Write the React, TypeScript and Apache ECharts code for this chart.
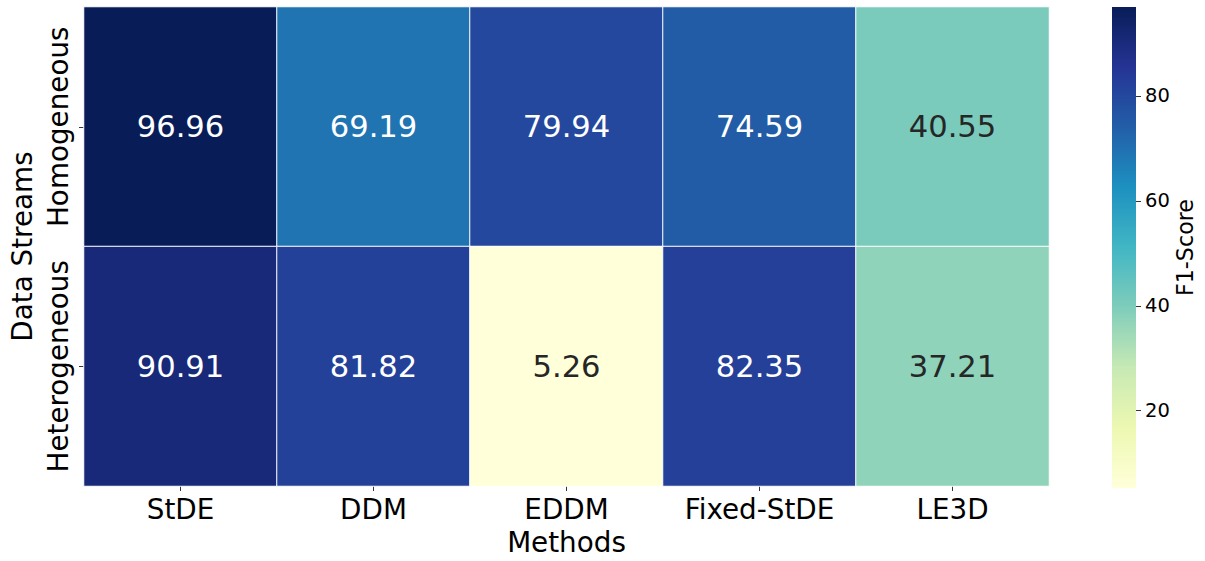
import React, { useEffect, useRef } from "react";
import * as echarts from "echarts";

// Categories
const methods = ["StDE", "DDM", "EDDM", "Fixed-StDE", "LE3D"];
const streams = ["Homogeneous", "Heterogeneous"];

// F1-scores per data stream type
const homogeneous = [96.96, 69.19, 79.94, 74.59, 40.55];
const heterogeneous = [90.91, 81.82, 5.26, 82.35, 37.21];

// Colorbar ticks
const colorbarTicks = [20, 40, 60, 80];

// YlGnBu colour ramp (light -> dark)
const ylgnbu = [
  "#ffffd9",
  "#edf8b1",
  "#c7e9b4",
  "#7fcdbb",
  "#41b6c4",
  "#1d91c0",
  "#225ea8",
  "#253494",
  "#081d58",
];

const FONT = "DejaVu Sans";

function hexToRgb(h: string): number[] {
  const n = parseInt(h.slice(1), 16);
  return [(n >> 16) & 255, (n >> 8) & 255, n & 255];
}

function rampColor(t: number): number[] {
  const pos = Math.min(Math.max(t, 0), 1) * (ylgnbu.length - 1);
  const i = Math.min(Math.floor(pos), ylgnbu.length - 2);
  const f = pos - i;
  const a = hexToRgb(ylgnbu[i]);
  const b = hexToRgb(ylgnbu[i + 1]);
  return a.map((v, k) => v + (b[k] - v) * f);
}

function luminance(rgb: number[]): number {
  const c = rgb.map((v) => {
    const s = v / 255;
    return s <= 0.03928 ? s / 12.92 : Math.pow((s + 0.055) / 1.055, 2.4);
  });
  return 0.2126 * c[0] + 0.7152 * c[1] + 0.0722 * c[2];
}

export default function App() {
  const ref = useRef<HTMLDivElement>(null);

  useEffect(() => {
    if (!ref.current) return;
    const chart = echarts.init(ref.current, null, { renderer: "svg" });

    const rows = [homogeneous, heterogeneous];
    const all = rows.flat();
    const vmin = Math.min(...all);
    const vmax = Math.max(...all);

    const data: any[] = [];
    rows.forEach((row, y) => {
      row.forEach((v, x) => {
        const lum = luminance(rampColor((v - vmin) / (vmax - vmin)));
        data.push({
          value: [x, y, v],
          label: { color: lum > 0.408 ? "#262626" : "#ffffff" },
        });
      });
    });

    const gridLeft = 82;
    const gridTop = 7;
    const gridRight = 156;
    const gridBottom = 73;
    const plotH = 561 - gridTop - gridBottom;

    const cbLeft = 1112;
    const cbWidth = 24;

    chart.setOption({
      animation: false,
      backgroundColor: "#ffffff",
      textStyle: { fontFamily: FONT },
      grid: [
        { left: gridLeft, top: gridTop, right: gridRight, bottom: gridBottom },
        { left: cbLeft, top: gridTop, width: cbWidth, height: plotH },
      ],
      xAxis: [
        {
          type: "category",
          data: methods,
          gridIndex: 0,
          name: "Methods",
          nameLocation: "middle",
          nameGap: 42,
          nameTextStyle: { fontSize: 27.8, color: "#000", fontFamily: FONT },
          axisLine: { show: false },
          axisTick: {
            show: true,
            alignWithLabel: true,
            length: 5,
            lineStyle: { color: "#000", width: 0.8 },
          },
          axisLabel: {
            interval: 0,
            fontSize: 27.8,
            color: "#000",
            margin: 9,
            fontFamily: FONT,
          },
          splitLine: { show: false },
          splitArea: { show: false },
        },
        {
          type: "value",
          gridIndex: 1,
          min: 0,
          max: 1,
          show: false,
        },
      ],
      yAxis: [
        {
          type: "category",
          data: streams,
          inverse: true,
          gridIndex: 0,
          name: "Data Streams",
          nameLocation: "middle",
          nameRotate: 90,
          nameGap: 48,
          nameMoveOverlap: false,
          nameTextStyle: { fontSize: 27.8, color: "#000", fontFamily: FONT },
          axisLine: { show: false },
          axisTick: {
            show: true,
            alignWithLabel: true,
            length: 5,
            lineStyle: { color: "#000", width: 0.8 },
          },
          axisLabel: {
            interval: 0,
            fontSize: 27.8,
            color: "#000",
            rotate: 90,
            margin: 12,
            fontFamily: FONT,
          },
          splitLine: { show: false },
          splitArea: { show: false },
        },
        {
          type: "value",
          gridIndex: 1,
          position: "right",
          min: vmin,
          max: vmax,
          name: "F1-Score",
          nameLocation: "middle",
          nameRotate: 90,
          nameGap: 38,
          nameMoveOverlap: false,
          nameTextStyle: { fontSize: 22.2, color: "#000", fontFamily: FONT },
          axisLine: { show: false, onZero: false },
          splitLine: { show: false },
          axisTick: {
            show: true,
            length: 5,
            customValues: colorbarTicks,
            lineStyle: { color: "#000", width: 0.8 },
          },
          axisLabel: {
            customValues: colorbarTicks,
            fontSize: 19.5,
            color: "#000",
            margin: 9,
            fontFamily: FONT,
          },
        },
      ],
      visualMap: {
        show: false,
        type: "continuous",
        min: vmin,
        max: vmax,
        dimension: 2,
        seriesIndex: 0,
        inRange: { color: ylgnbu },
      },
      graphic: [
        {
          type: "rect",
          shape: { x: cbLeft, y: gridTop, width: cbWidth, height: plotH },
          style: {
            fill: new echarts.graphic.LinearGradient(
              0,
              1,
              0,
              0,
              ylgnbu.map((c, i) => ({ offset: i / (ylgnbu.length - 1), color: c }))
            ),
          },
          silent: true,
        },
      ],
      series: [
        {
          type: "heatmap",
          xAxisIndex: 0,
          yAxisIndex: 0,
          data,
          itemStyle: { borderColor: "#ffffff", borderWidth: 1 },
          label: {
            show: true,
            fontSize: 30.6,
            fontFamily: FONT,
            formatter: (p: any) => p.value[2].toFixed(2),
          },
          emphasis: { disabled: true },
        },
      ],
    });

    return () => chart.dispose();
  }, []);

  return (
    <div
      ref={ref}
      style={{ width: 1205, height: 561, position: "fixed", left: 0, top: 0 }}
    />
  );
}
